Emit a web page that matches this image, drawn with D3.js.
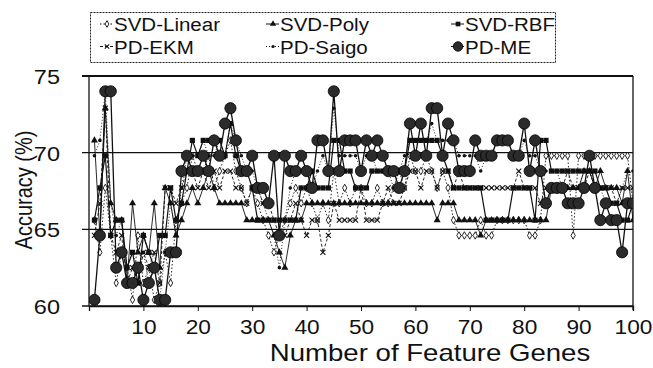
<!DOCTYPE html>
<html>
<head>
<meta charset="utf-8">
<script src="https://cdn.jsdelivr.net/npm/d3@7"></script>
<style>
  body { margin: 0; background: #fff; }
  svg { font-family: "Liberation Sans", Arial, sans-serif; }
</style>
</head>
<body>
<div id="chart"></div>
<script>
// number of feature genes 1..100
const genes = d3.range(1, 101);

const svdLinear = [
  65.6, 63.5, 67.7, 64.6, 61.5, 63.5, 62.5, 60.4, 64.6, 61.5, 62.5, 60.4, 61.5, 63.5, 61.5, 65.6,
  66.7, 67.7, 69.8, 68.8, 68.8, 69.8, 67.7, 68.8, 69.8, 70.8, 68.8, 67.7, 66.7, 67.7,
  66.7, 65.6, 64.6, 63.5, 64.6, 65.6, 66.7, 67.7, 66.7, 67.7, 66.7, 65.6, 66.7, 65.6, 68.8,
  66.7, 67.7, 66.7, 67.7, 67.7, 66.7, 66.7, 67.7, 66.7, 66.7, 67.7, 68.8, 67.7, 69.8, 68.8,
  68.8, 69.8, 68.8, 67.7, 68.8, 67.7, 65.6, 64.6, 64.6, 64.6, 64.6, 65.6, 64.6, 64.6, 65.6,
  65.6, 65.6, 65.6, 65.6, 65.6, 64.6, 64.6, 65.6, 69.8, 69.8, 69.8, 69.8, 69.8, 64.6, 69.8,
  69.8, 69.8, 69.8, 69.8, 69.8, 69.8, 69.8, 69.8, 69.8, 66.7
];
const svdPoly = [
  70.8, 64.6, 72.9, 66.7, 65.6, 65.6, 61.5, 66.7, 63.5, 64.6, 63.5, 66.7, 62.5, 67.7, 66.7, 64.6,
  65.6, 66.7, 67.7, 66.7, 67.7, 68.8, 67.7, 66.7, 66.7, 66.7, 66.7, 66.7, 65.6, 65.6,
  65.6, 65.6, 65.6, 64.6, 63.5, 62.5, 64.6, 65.6, 65.6, 66.7, 66.7, 66.7, 66.7, 66.7, 66.7,
  66.7, 66.7, 66.7, 66.7, 66.7, 66.7, 66.7, 66.7, 66.7, 66.7, 66.7, 66.7, 66.7, 66.7, 66.7,
  66.7, 66.7, 66.7, 65.6, 66.7, 66.7, 66.7, 65.6, 65.6, 65.6, 65.6, 64.6, 65.6, 65.6, 65.6,
  65.6, 65.6, 65.6, 65.6, 65.6, 65.6, 65.6, 65.6, 65.6, 67.7, 67.7, 67.7, 67.7, 67.7, 67.7,
  68.8, 68.8, 67.7, 68.8, 67.7, 67.7, 67.7, 66.7, 68.8, 65.6
];
const svdRbf = [
  65.6, 67.7, 69.8, 64.6, 65.6, 65.6, 62.5, 63.5, 61.5, 64.6, 63.5, 62.5, 64.6, 64.6, 67.7, 65.6,
  66.7, 68.8, 70.8, 69.8, 70.8, 70.8, 70.8, 70.8, 69.8, 71.9, 69.8, 68.8, 68.8, 67.7,
  65.6, 65.6, 65.6, 65.6, 65.6, 65.6, 65.6, 65.6, 67.7, 67.7, 68.8, 67.7, 67.7, 67.7, 70.8,
  70.8, 68.8, 68.8, 67.7, 67.7, 67.7, 68.8, 68.8, 68.8, 68.8, 68.8, 68.8, 68.8, 70.8, 70.8,
  70.8, 70.8, 70.8, 70.8, 69.8, 68.8, 67.7, 67.7, 67.7, 67.7, 67.7, 67.7, 65.6, 65.6, 65.6,
  65.6, 65.6, 67.7, 67.7, 67.7, 67.7, 65.6, 70.8, 70.8, 68.8, 68.8, 68.8, 68.8, 68.8, 68.8,
  68.8, 68.8, 68.8, 67.7, 67.7, 66.7, 66.7, 65.6, 65.6, 66.7
];
const pdEkm = [
  64.6, 66.7, 72.9, 64.6, 63.5, 64.6, 61.5, 62.5, 61.5, 63.5, 62.5, 63.5, 61.5, 67.7, 67.7, 66.7,
  67.7, 68.8, 68.8, 67.7, 68.8, 67.7, 68.8, 67.7, 68.8, 68.8, 67.7, 67.7, 66.7, 67.7,
  67.7, 66.7, 66.7, 65.6, 64.6, 64.6, 65.6, 66.7, 65.6, 64.6, 65.6, 65.6, 63.5, 64.6, 66.7,
  65.6, 65.6, 65.6, 65.6, 67.7, 65.6, 65.6, 65.6, 66.7, 67.7, 66.7, 66.7, 67.7, 68.8, 68.8,
  67.7, 68.8, 68.8, 67.7, 68.8, 68.8, 67.7, 68.8, 67.7, 67.7, 67.7, 67.7, 67.7, 67.7, 67.7,
  67.7, 67.7, 67.7, 68.8, 67.7, 67.7, 67.7, 66.7, 67.7, 67.7, 67.7, 67.7, 68.8, 67.7, 67.7,
  67.7, 68.8, 67.7, 67.7, 67.7, 67.7, 66.7, 67.7, 67.7, 67.7
];
const pdSaigo = [
  69.8, 70.8, 74.0, 66.7, 64.6, 65.6, 62.5, 63.5, 62.5, 63.5, 61.5, 62.5, 60.4, 63.5, 66.7, 64.6,
  67.7, 69.8, 69.8, 69.8, 70.8, 69.8, 69.8, 70.8, 69.8, 71.9, 70.8, 69.8, 68.8, 68.8,
  67.7, 66.7, 65.6, 64.6, 62.5, 65.6, 67.7, 68.8, 68.8, 68.8, 67.7, 68.8, 69.8, 68.8, 72.9,
  69.8, 69.8, 69.8, 69.8, 68.8, 69.8, 69.8, 68.8, 68.8, 68.8, 67.7, 68.8, 69.8, 70.8, 70.8,
  70.8, 70.8, 71.9, 70.8, 70.8, 70.8, 70.8, 69.8, 69.8, 69.8, 69.8, 68.8, 69.8, 69.8, 70.8,
  70.8, 70.8, 69.8, 69.8, 70.8, 69.8, 69.8, 68.8, 68.8, 68.8, 68.8, 67.7, 67.7, 67.7, 67.7,
  68.8, 68.8, 67.7, 67.7, 66.7, 66.7, 66.7, 67.7, 68.8, 68.8
];
const pdMe = [
  60.4, 64.6, 74.0, 74.0, 62.5, 63.5, 61.5, 61.5, 62.5, 60.4, 61.5, 62.5, 60.4, 60.4, 63.5, 63.5,
  68.8, 69.8, 68.8, 68.8, 69.8, 68.8, 70.8, 69.8, 71.9, 72.9, 70.8, 68.8, 68.8, 69.8,
  67.7, 67.7, 66.7, 69.8, 64.6, 69.8, 68.8, 68.8, 69.8, 68.8, 67.7, 70.8, 70.8, 68.8, 74.0,
  68.8, 70.8, 70.8, 70.8, 68.8, 70.8, 69.8, 70.8, 69.8, 68.8, 68.8, 67.7, 68.8, 71.9, 69.8,
  71.9, 69.8, 72.9, 72.9, 69.8, 71.9, 70.8, 68.8, 68.8, 68.8, 70.8, 69.8, 69.8, 69.8, 70.8,
  70.8, 70.8, 69.8, 69.8, 71.9, 68.8, 70.8, 68.8, 66.7, 67.7, 67.7, 67.7, 66.7, 66.7, 66.7,
  67.7, 69.8, 67.7, 65.6, 66.7, 65.6, 65.6, 63.5, 66.7, 66.7
];

const seriesNames = ['SVD-Linear', 'SVD-Poly', 'SVD-RBF', 'PD-EKM', 'PD-Saigo', 'PD-ME'];
const seriesValues = [svdLinear, svdPoly, svdRbf, pdEkm, pdSaigo, pdMe];
const yTicks = [60, 65, 70, 75];
const xTicks = d3.range(0, 101, 10);

// drawing style per series (line dash, marker)
const styles = [
  { dash: '1.5,2', marker: 'diamond', width: 0.9 },
  { dash: null, marker: 'triangle', width: 0.9 },
  { dash: null, marker: 'square', width: 1.2 },
  { dash: '3,2', marker: 'cross', width: 0.9 },
  { dash: '1,2', marker: 'dot', width: 0.9 },
  { dash: null, marker: 'circle', width: 1.3 }
];

const W = 653, H = 368;
const margin = { top: 76, right: 20, bottom: 62, left: 89 };
const width = W - margin.left - margin.right;
const height = H - margin.top - margin.bottom;

const svg = d3.select('#chart').append('svg')
  .attr('width', W).attr('height', H);

const g = svg.append('g')
  .attr('transform', `translate(${margin.left},${margin.top})`);

const x = d3.scaleLinear().domain([0, 100]).range([0, width]);
const y = d3.scaleLinear().domain([60, 75]).range([height, 0]);

// horizontal rules (grid + ticks out to the left)
g.selectAll('.hrule')
  .data(yTicks)
  .enter()
  .append('line')
  .attr('x1', -7).attr('x2', width)
  .attr('y1', (d) => y(d)).attr('y2', (d) => y(d))
  .attr('stroke', '#111')
  .attr('stroke-width', (d) => (d === 75 ? 2.2 : d === 60 ? 1.6 : 1.3));

// frame sides
g.append('line').attr('x1', 0).attr('x2', 0).attr('y1', 0).attr('y2', height)
  .attr('stroke', '#111').attr('stroke-width', 1.3);
g.append('line').attr('x1', width).attr('x2', width).attr('y1', 0).attr('y2', height + 4)
  .attr('stroke', '#111').attr('stroke-width', 1.3);

// y tick labels
g.selectAll('.ylab')
  .data(yTicks)
  .enter()
  .append('text')
  .attr('transform', (d) => `translate(-29,${y(d) + 8}) scale(1.12,1)`)
  .attr('text-anchor', 'end')
  .attr('font-size', 21)
  .attr('fill', '#111')
  .text((d) => d);

// x axis
const xAxis = g.append('g')
  .attr('transform', `translate(0,${height})`)
  .call(d3.axisBottom(x).tickValues(xTicks).tickSize(5).tickFormat((d) => (d === 0 ? '' : d)));
xAxis.select('.domain').attr('stroke', '#111').attr('stroke-width', 1.3);
xAxis.selectAll('.tick line').attr('stroke', '#111');
xAxis.selectAll('.tick text')
  .attr('font-size', 21)
  .attr('fill', '#111')
  .attr('font-family', '"Liberation Sans", Arial, sans-serif')
  .attr('transform', 'scale(1.08,1)')
  .attr('y', 10)
  .attr('dy', '0.85em');

// axis titles
svg.append('text')
  .attr('text-anchor', 'middle')
  .attr('transform', `translate(32,190) rotate(-90) scale(1,1.2)`)
  .attr('font-size', 20)
  .attr('fill', '#111')
  .text('Accuracy (%)');

svg.append('text')
  .attr('text-anchor', 'middle')
  .attr('transform', `translate(430,361) scale(1.2,1)`)
  .attr('font-size', 23)
  .attr('fill', '#111')
  .text('Number of Feature Genes');

// clip plot
svg.append('defs').append('clipPath').attr('id', 'plotclip')
  .append('rect').attr('x', 0).attr('y', -8).attr('width', width).attr('height', height + 8);

const plot = g.append('g').attr('clip-path', 'url(#plotclip)');

const line = d3.line()
  .x((d, i) => x(genes[i]))
  .y((d) => y(d));

function drawMarker(sel, type, cx, cy, scale) {
  const s = scale || 1;
  if (type === 'circle') {
    sel.append('circle').attr('cx', cx).attr('cy', cy).attr('r', 5.6 * s)
      .attr('fill', '#2b2b2b').attr('stroke', '#000').attr('stroke-width', 0.8);
  } else if (type === 'square') {
    sel.append('rect').attr('x', cx - 2.6 * s).attr('y', cy - 2.6 * s)
      .attr('width', 5.2 * s).attr('height', 5.2 * s).attr('fill', '#111');
  } else if (type === 'triangle') {
    sel.append('path')
      .attr('d', d3.symbol().type(d3.symbolTriangle).size(22 * s * s)())
      .attr('transform', `translate(${cx},${cy})`).attr('fill', '#111');
  } else if (type === 'diamond') {
    sel.append('path')
      .attr('d', d3.symbol().type(d3.symbolDiamond).size(16 * s * s)())
      .attr('transform', `translate(${cx},${cy})`)
      .attr('fill', '#fff').attr('stroke', '#111').attr('stroke-width', 0.9);
  } else if (type === 'cross') {
    sel.append('path')
      .attr('d', d3.symbol().type(d3.symbolX).size(18 * s * s)())
      .attr('transform', `translate(${cx},${cy})`)
      .attr('fill', 'none').attr('stroke', '#111').attr('stroke-width', 1.1);
  } else if (type === 'dot') {
    sel.append('circle').attr('cx', cx).attr('cy', cy).attr('r', 1.8 * s).attr('fill', '#111');
  }
}

seriesValues.forEach((vals, k) => {
  const st = styles[k];
  plot.append('path')
    .datum(vals)
    .attr('d', line)
    .attr('fill', 'none')
    .attr('stroke', '#111')
    .attr('stroke-width', st.width)
    .attr('stroke-dasharray', st.dash);
  const mg = plot.append('g');
  vals.forEach((v, i) => drawMarker(mg, st.marker, x(genes[i]), y(v)));
});

// legend
const legend = svg.append('g');
legend.append('rect')
  .attr('x', 90.5).attr('y', 12.5).attr('width', 465).attr('height', 50)
  .attr('fill', '#fff').attr('stroke', '#222').attr('stroke-width', 1)
  .attr('stroke-dasharray', '2,1');

const colX = [100, 266, 451];
const rowY = [24, 46.5];
seriesNames.forEach((name, k) => {
  const cx = colX[k % 3];
  const cy = rowY[Math.floor(k / 3)];
  const st = styles[k];
  legend.append('line')
    .attr('x1', cx).attr('x2', cx + 13).attr('y1', cy).attr('y2', cy)
    .attr('stroke', '#111').attr('stroke-width', 1)
    .attr('stroke-dasharray', st.dash);
  drawMarker(legend, st.marker, cx + 7, cy, st.marker === 'circle' ? 0.85 : 0.9);
  legend.append('text')
    .attr('transform', `translate(${cx + 14},${cy + 7}) scale(1.08,1)`)
    .attr('font-size', 19)
    .attr('fill', '#111')
    .text(name);
});
</script>
</body>
</html>
